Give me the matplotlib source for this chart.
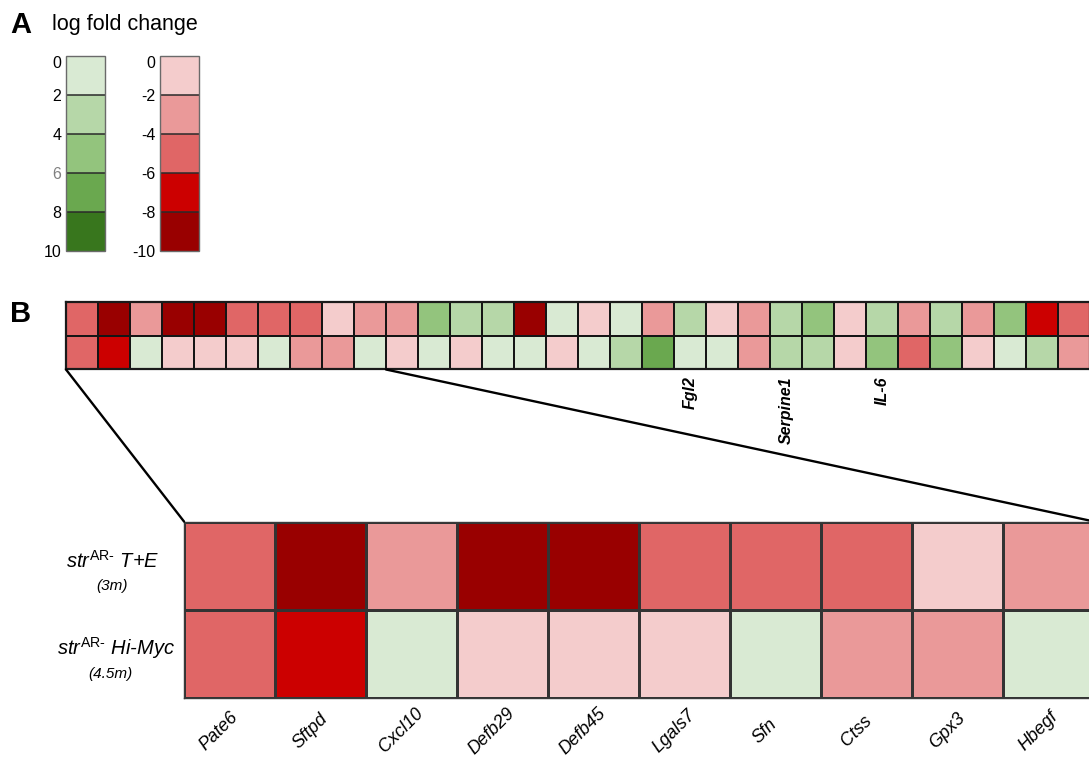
import matplotlib
matplotlib.use("Agg")
import matplotlib.pyplot as plt
import numpy as np
from matplotlib.colors import ListedColormap, BoundaryNorm
from matplotlib.cm import ScalarMappable
from matplotlib.patches import ConnectionPatch

plt.rcParams["font.family"] = ["Liberation Sans", "DejaVu Sans"]
plt.rcParams["mathtext.fontset"] = "custom"
plt.rcParams["mathtext.rm"] = "Liberation Sans"
plt.rcParams["mathtext.it"] = "Liberation Sans:italic"
plt.rcParams["axes.unicode_minus"] = False

# ---- data: log fold change per gene (columns) for the two models ----
te_3m = [-5, -9, -3, -9, -9, -5, -5, -5, -1, -3, -3, 5, 3, 3, -9, 1,
         -1, 1, -3, 3, -1, -3, 3, 5, -1, 3, -3, 3, -3, 5, -7, -5]
himyc_4_5m = [-5, -7, 1, -1, -1, -1, 1, -3, -3, 1, -1, 1, -1, 1, 1, -1,
              1, 3, 7, 1, 1, -3, 3, 3, -1, 5, -5, 5, -1, 1, 3, -3]
zoom_genes = ["Pate6", "Sftpd", "Cxcl10", "Defb29", "Defb45",
              "Lgals7", "Sfn", "Ctss", "Gpx3", "Hbegf"]
marked_genes = ["Fgl2", "Serpine1", "IL-6"]
marked_cols = [19, 22, 25]
green_ticks = [0, 2, 4, 6, 8, 10]
red_ticks = [-10, -8, -6, -4, -2, 0]

reds = ["#990000", "#cc0000", "#e06666", "#ea9999", "#f4cccc"]
greens = ["#d9ead3", "#b6d7a8", "#93c47d", "#6aa84f", "#38761d"]
bounds = list(range(-10, 11, 2))
cmap = ListedColormap(reds + greens)
norm = BoundaryNorm(bounds, cmap.N)

W, H = 1089, 757
fig = plt.figure(figsize=(W / 100, H / 100), dpi=100)


def px_axes(left, top, width, height):
    return fig.add_axes([left / W, 1 - (top + height) / H, width / W, height / H])


def fx(x):
    return x / W


def fy(y):
    return 1 - y / H


# ---- panel A: discrete scales ----
fig.text(fx(10), fy(33), "A", fontsize=21, fontweight="bold", va="baseline")
fig.text(fx(52), fy(30), "log fold change", fontsize=15.5, va="baseline")


def discrete_bar(cax, ticks, colors, invert):
    sm = ScalarMappable(norm=BoundaryNorm(ticks, len(colors)),
                        cmap=ListedColormap(colors))
    cb = fig.colorbar(sm, cax=cax, drawedges=False)
    cb.set_ticks(ticks, labels=[str(t) for t in ticks])
    if invert:
        cax.invert_yaxis()
    # separators between the colour steps
    for t in ticks[1:-1]:
        cax.axhline(t, color="#2a2a2a", linewidth=1.1)
    cax.yaxis.set_ticks_position("left")
    cax.tick_params(length=0, pad=3, labelsize=11.5)
    cb.outline.set_edgecolor("#6a6a6a")
    cb.outline.set_linewidth(1.0)
    return cb


cax_g = px_axes(65.5, 55.7, 39, 195)
discrete_bar(cax_g, green_ticks, greens, invert=True)
labs = cax_g.get_yticklabels()
labs[0].set_va("top")
labs[3].set_color("#808080")

cax_r = px_axes(159.5, 55.7, 39, 195)
discrete_bar(cax_r, red_ticks, reds, invert=False)
labs = cax_r.get_yticklabels()
labs[-1].set_va("top")

# ---- panel B: full strip ----
fig.text(fx(10), fy(322), "B", fontsize=21, fontweight="bold", va="baseline")

values = np.array([te_3m, himyc_4_5m], dtype=float)
ncol = values.shape[1]

ax_s = px_axes(66, 302.5, 32 * ncol, 67)
ax_s.pcolormesh(values, cmap=cmap, norm=norm, edgecolors="#151515", linewidth=1.3)
ax_s.set_xlim(0, ncol)
ax_s.set_ylim(2, 0)
ax_s.set_yticks([])
ax_s.set_xticks([c + 0.5 for c in marked_cols], marked_genes, rotation=90,
                fontstyle="italic", fontweight="bold", fontsize=11.5)
ax_s.tick_params(axis="x", length=0, pad=5)
for sp in ax_s.spines.values():
    sp.set_linewidth(1.6)
    sp.set_color("#1a1a1a")

# ---- zoomed view of the first ten genes ----
nz = len(zoom_genes)
ax_b = px_axes(184, 521.5, 91 * nz, 176)
ax_b.pcolormesh(values[:, :nz], cmap=cmap, norm=norm, edgecolors="#333333", linewidth=0.9)
ax_b.set_xlim(0, nz)
ax_b.set_ylim(2, 0)
ax_b.set_xticks([])
ax_b.set_yticks([])
for sp in ax_b.spines.values():
    sp.set_linewidth(1.0)
    sp.set_color("#3a3a3a")

for i, g in enumerate(zoom_genes):
    ax_b.annotate(g, xy=(i + 0.5, 2), xycoords="data", xytext=(-7.5, -24),
                  textcoords="offset points", rotation=45, ha="center", va="center",
                  fontstyle="italic", fontsize=13, annotation_clip=False)

# row labels
row_main = [r"$\mathit{str}^{\mathrm{AR}\text{-}}$ T+E",
            r"$\mathit{str}^{\mathrm{AR}\text{-}}$ Hi-Myc"]
row_sub = ["(3m)", "(4.5m)"]
fig.text(fx(113), fy(561), row_main[0], ha="center", va="center",
         fontstyle="italic", fontsize=14.5)
fig.text(fx(112), fy(586), row_sub[0], ha="center", va="center", fontstyle="italic", fontsize=11)
fig.text(fx(116), fy(648), row_main[1], ha="center", va="center",
         fontstyle="italic", fontsize=14.5)
fig.text(fx(110), fy(674), row_sub[1], ha="center", va="center", fontstyle="italic", fontsize=11)

# connector lines from the strip to the zoomed view
for xa in (0, nz):
    con = ConnectionPatch(xyA=(xa, 2), coordsA="data", axesA=ax_s,
                          xyB=(xa, 0), coordsB="data", axesB=ax_b,
                          color="black", linewidth=1.7)
    fig.add_artist(con)

fig.savefig("out.png", dpi=100)
